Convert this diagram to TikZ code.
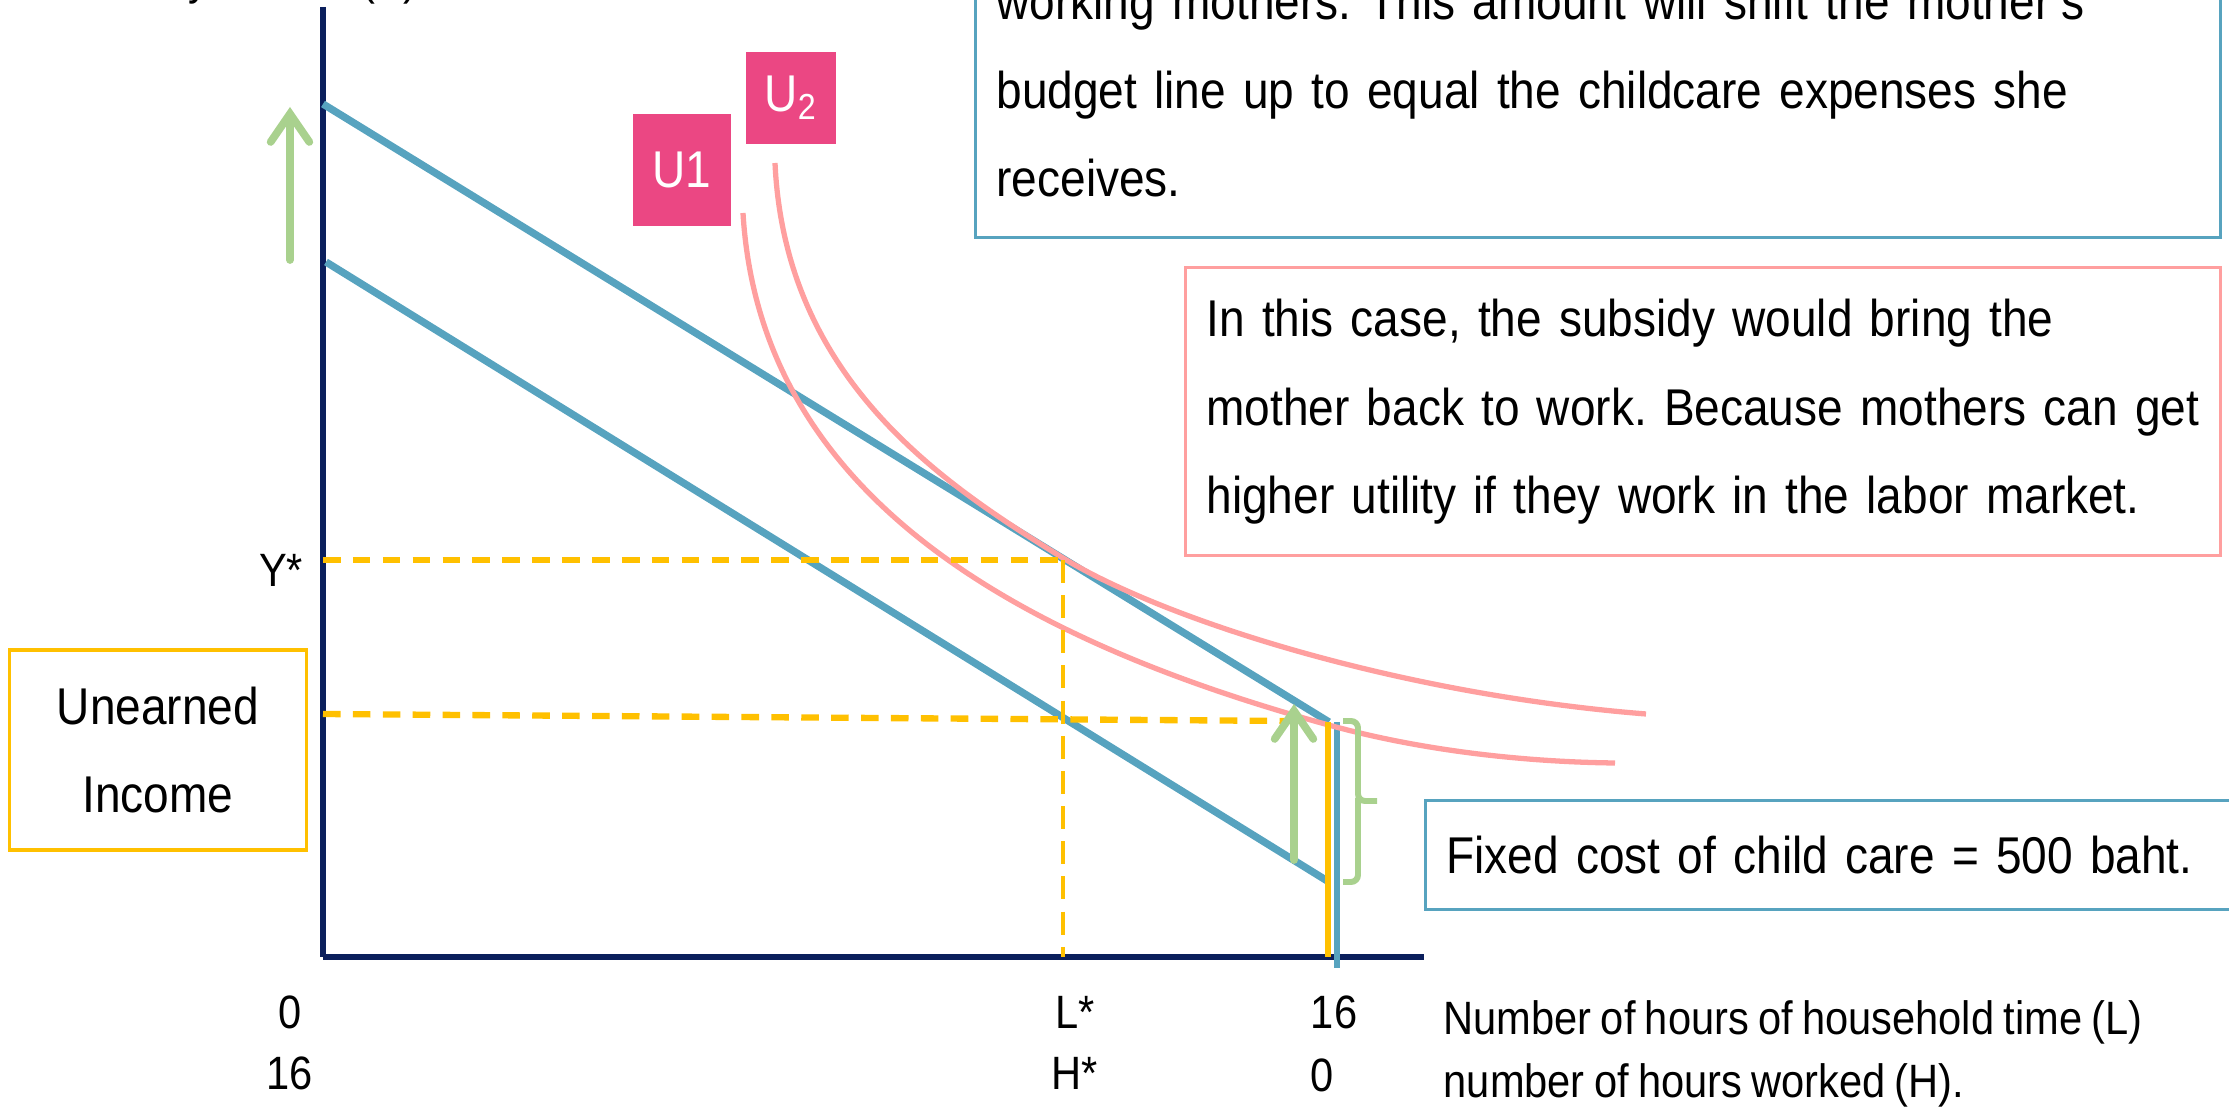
\documentclass[tikz,border=0pt]{standalone}
\usepackage{fontspec}
\setmainfont{Liberation Sans}[FakeStretch=0.89, WordSpace=0.8]
\usetikzlibrary{arrows.meta}
\definecolor{axisblue}{HTML}{0B1F5C}
\definecolor{budgetblue}{HTML}{57A3BF}
\definecolor{curvepink}{HTML}{FF9F9F}
\definecolor{labelpink}{HTML}{EB4783}
\definecolor{dashgold}{HTML}{FFC000}
\definecolor{arrowgreen}{HTML}{A9D18E}
\frenchspacing

\begin{document}
\begin{tikzpicture}[
    x=0.01cm, y=-0.01cm,
    every node/.style={font=\fontsize{14.7pt}{25.2pt}\selectfont, inner sep=0pt},
    axis/.style={draw=axisblue, line width=1.5pt},
    budget/.style={draw=budgetblue, line width=2.1pt},
    ucurve/.style={draw=curvepink, line width=1.5pt},
    guide/.style={draw=dashgold, line width=1.8pt, dash pattern=on 5pt off 3.5pt},
    guidev/.style={draw=dashgold, line width=1.1pt, dash pattern=on 6.5pt off 3.5pt},
    raisearrow/.style={draw=arrowgreen, line width=2.2pt, line cap=round, -{Straight Barb[length=8pt,width=11pt,line cap=round]}},
    bracket/.style={draw=arrowgreen, line width=1.7pt, rounded corners=2pt},
    note/.style={draw, line width=0.9pt, fill=white, align=left, inner xsep=0.21cm},
    ulabel/.style={fill=labelpink, text=white, align=center},
    tick/.style={font=\fontsize{13.3pt}{20pt}\selectfont}
]
    \useasboundingbox (0,0) rectangle (2229,1110);
    \clip (0,0) rectangle (2229,1110);

    \coordinate (origin) at (323,957);
    \coordinate (ytop) at (323,7);
    \coordinate (xend) at (1424,957);
    \coordinate (hiA) at (323,104);
    \coordinate (hiB) at (1329,722);
    \coordinate (loA) at (326,262);
    \coordinate (loB) at (1329,882);
    \coordinate (tang) at (1063,558);
    \coordinate (tangY) at (323,560);
    \coordinate (tangL) at (1063,957);
    \coordinate (baseY) at (323,714);
    \coordinate (baseR) at (1290,721);

    \draw[axis] (ytop) -- (origin);
    \draw[axis, line width=1.7pt] (origin) -- (xend);

    \draw[budget] (hiA) -- (hiB);
    \draw[budget] (loA) -- (loB);
    \draw[budget, line width=1.6pt] (1337,722) -- (1337,968);

    \draw[ucurve] (743,213) .. controls (760,500) and (1025,641) .. (1325,724)
                  .. controls (1425,752) and (1530,762) .. (1615,763);
    \draw[ucurve] (775,163) .. controls (785,380) and (943,484) .. (tang)
                  .. controls (1163,619) and (1396,694) .. (1646,714);

    \draw[guide] (tangY) -- (1063,560);
    \draw[guidev] (1063,560) -- (tangL);
    \draw[guide] (baseY) -- (baseR);

    \draw[draw=dashgold, line width=1.8pt] (1328,722) -- (1328,957);

    \draw[raisearrow] (290,260) -- (290,107);
    \draw[raisearrow] (1294,860) -- (1294,704);
    \draw[bracket] (1343,721) -| (1358,801) -- (1377,801);
    \draw[bracket] (1358,798) |- (1343,882);

    \node[ulabel, minimum width=0.98cm, minimum height=1.11cm] (u1) at (682,170) {U1};
    \node[ulabel, minimum width=0.90cm, minimum height=0.91cm] (u2) at (791,98) {U\textsubscript{2}};

    \node[note, draw=budgetblue, anchor=south west, minimum width=12.44cm, text width=12.02cm, inner ysep=0.4cm] (subsidy) at (974,239) {\mbox{working mothers. This amount will shift the mother’s}\\\mbox{budget line up to equal the childcare expenses she}\\receives.};
    \node[note, draw=curvepink, anchor=north west, minimum width=10.34cm, minimum height=2.88cm, text width=9.92cm] (backtowork) at (1184,266) {\mbox{In this case, the subsidy would bring the}\\\mbox{mother back to work. Because mothers can get}\\\mbox{higher utility if they work in the labor market.}};
    \node[note, draw=budgetblue, anchor=north west, minimum width=8.4cm, minimum height=1.09cm, text width=7.98cm] (fixedcost) at (1424,799) {Fixed cost of child care = 500 baht.};
    \node[note, draw=dashgold, align=center, minimum width=2.97cm, minimum height=2.0cm] (unearned) at (158,750) {Unearned\\Income};

    \node[tick, anchor=base east] (ylabel) at (418,-5) {Monthly income (Y)};
    \node[tick] (ystar) at (281,570) {Y*};
    \node[tick] (l0) at (290,1012) {0};
    \node[tick] (h16) at (290,1073) {16};
    \node[tick] (lstar) at (1075,1012) {L*};
    \node[tick] (hstar) at (1075,1073) {H*};
    \node[tick] (l16) at (1334,1012) {16};
    \node[tick] (h0) at (1322,1075) {0};
    \node[tick, anchor=west] (ltext) at (1443,1022) {Number of hours of household time (L)};
    \node[tick, anchor=west] (htext) at (1443,1085) {number of hours worked (H).};
\end{tikzpicture}
\end{document}
